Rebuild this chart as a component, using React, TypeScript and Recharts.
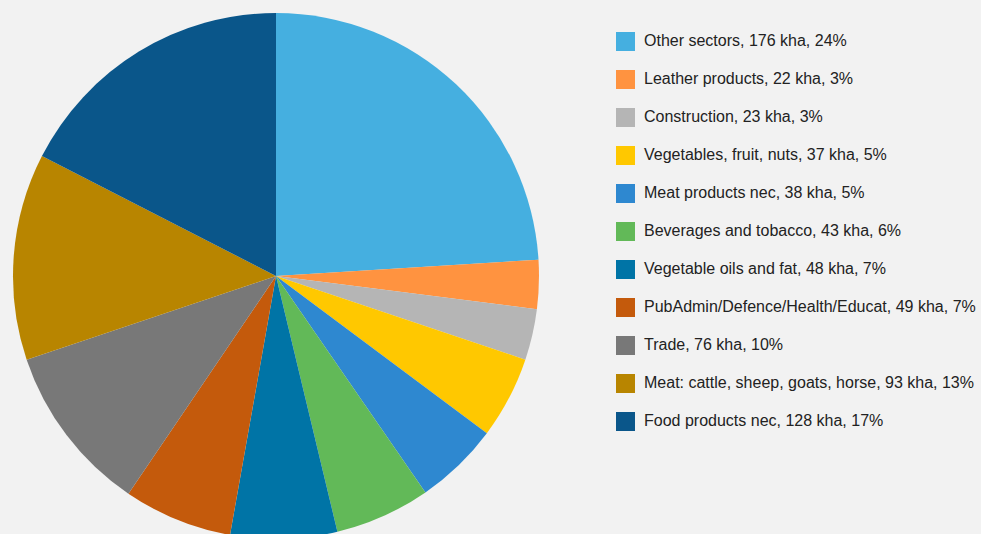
import React from 'react';
import { PieChart, Pie, Cell, Legend } from 'recharts';

const categories = [
  'Other sectors',
  'Leather products',
  'Construction',
  'Vegetables, fruit, nuts',
  'Meat products nec',
  'Beverages and tobacco',
  'Vegetable oils and fat',
  'PubAdmin/Defence/Health/Educat',
  'Trade',
  'Meat: cattle, sheep, goats, horse',
  'Food products nec',
];
const values = [176, 22, 23, 37, 38, 43, 48, 49, 76, 93, 128];
const percents = [24, 3, 3, 5, 5, 6, 7, 7, 10, 13, 17];
const colors = [
  '#45afe0', '#ff9340', '#b5b5b5', '#ffc800', '#2e88d0', '#62b958',
  '#0074a6', '#c45a0c', '#787878', '#b88500', '#0a568a',
];

const data = categories.map((name, i) => ({
  name,
  value: values[i],
  label: `${name}, ${values[i]} kha, ${percents[i]}%`,
  color: colors[i],
}));

const LegendContent = () => (
  <div style={{ fontFamily: '"Liberation Sans", Arial, sans-serif', fontSize: 16, color: '#222' }}>
    {data.map((d) => (
      <div key={d.name} style={{ display: 'flex', alignItems: 'center', height: 38 }}>
        <div style={{ width: 19, height: 19, background: d.color, marginRight: 9, flex: 'none' }} />
        <span style={{ whiteSpace: 'nowrap' }}>{d.label}</span>
      </div>
    ))}
  </div>
);

export default function App() {
  return (
    <div style={{ position: 'fixed', left: 0, top: 0, width: 981, height: 534, background: '#f2f2f2', overflow: 'hidden' }}>
      <PieChart width={981} height={534} margin={{ top: 0, right: 0, bottom: 0, left: 0 }}>
        <Pie
          data={data}
          dataKey="value"
          nameKey="name"
          cx={276}
          cy={276}
          outerRadius={263}
          startAngle={90}
          endAngle={-270}
          stroke="none"
          isAnimationActive={false}
        >
          {data.map((d) => (
            <Cell key={d.name} fill={d.color} />
          ))}
        </Pie>
        <Legend
          content={<LegendContent />}
          wrapperStyle={{ position: 'absolute', left: 616, top: 22, width: 365 }}
        />
      </PieChart>
    </div>
  );
}
